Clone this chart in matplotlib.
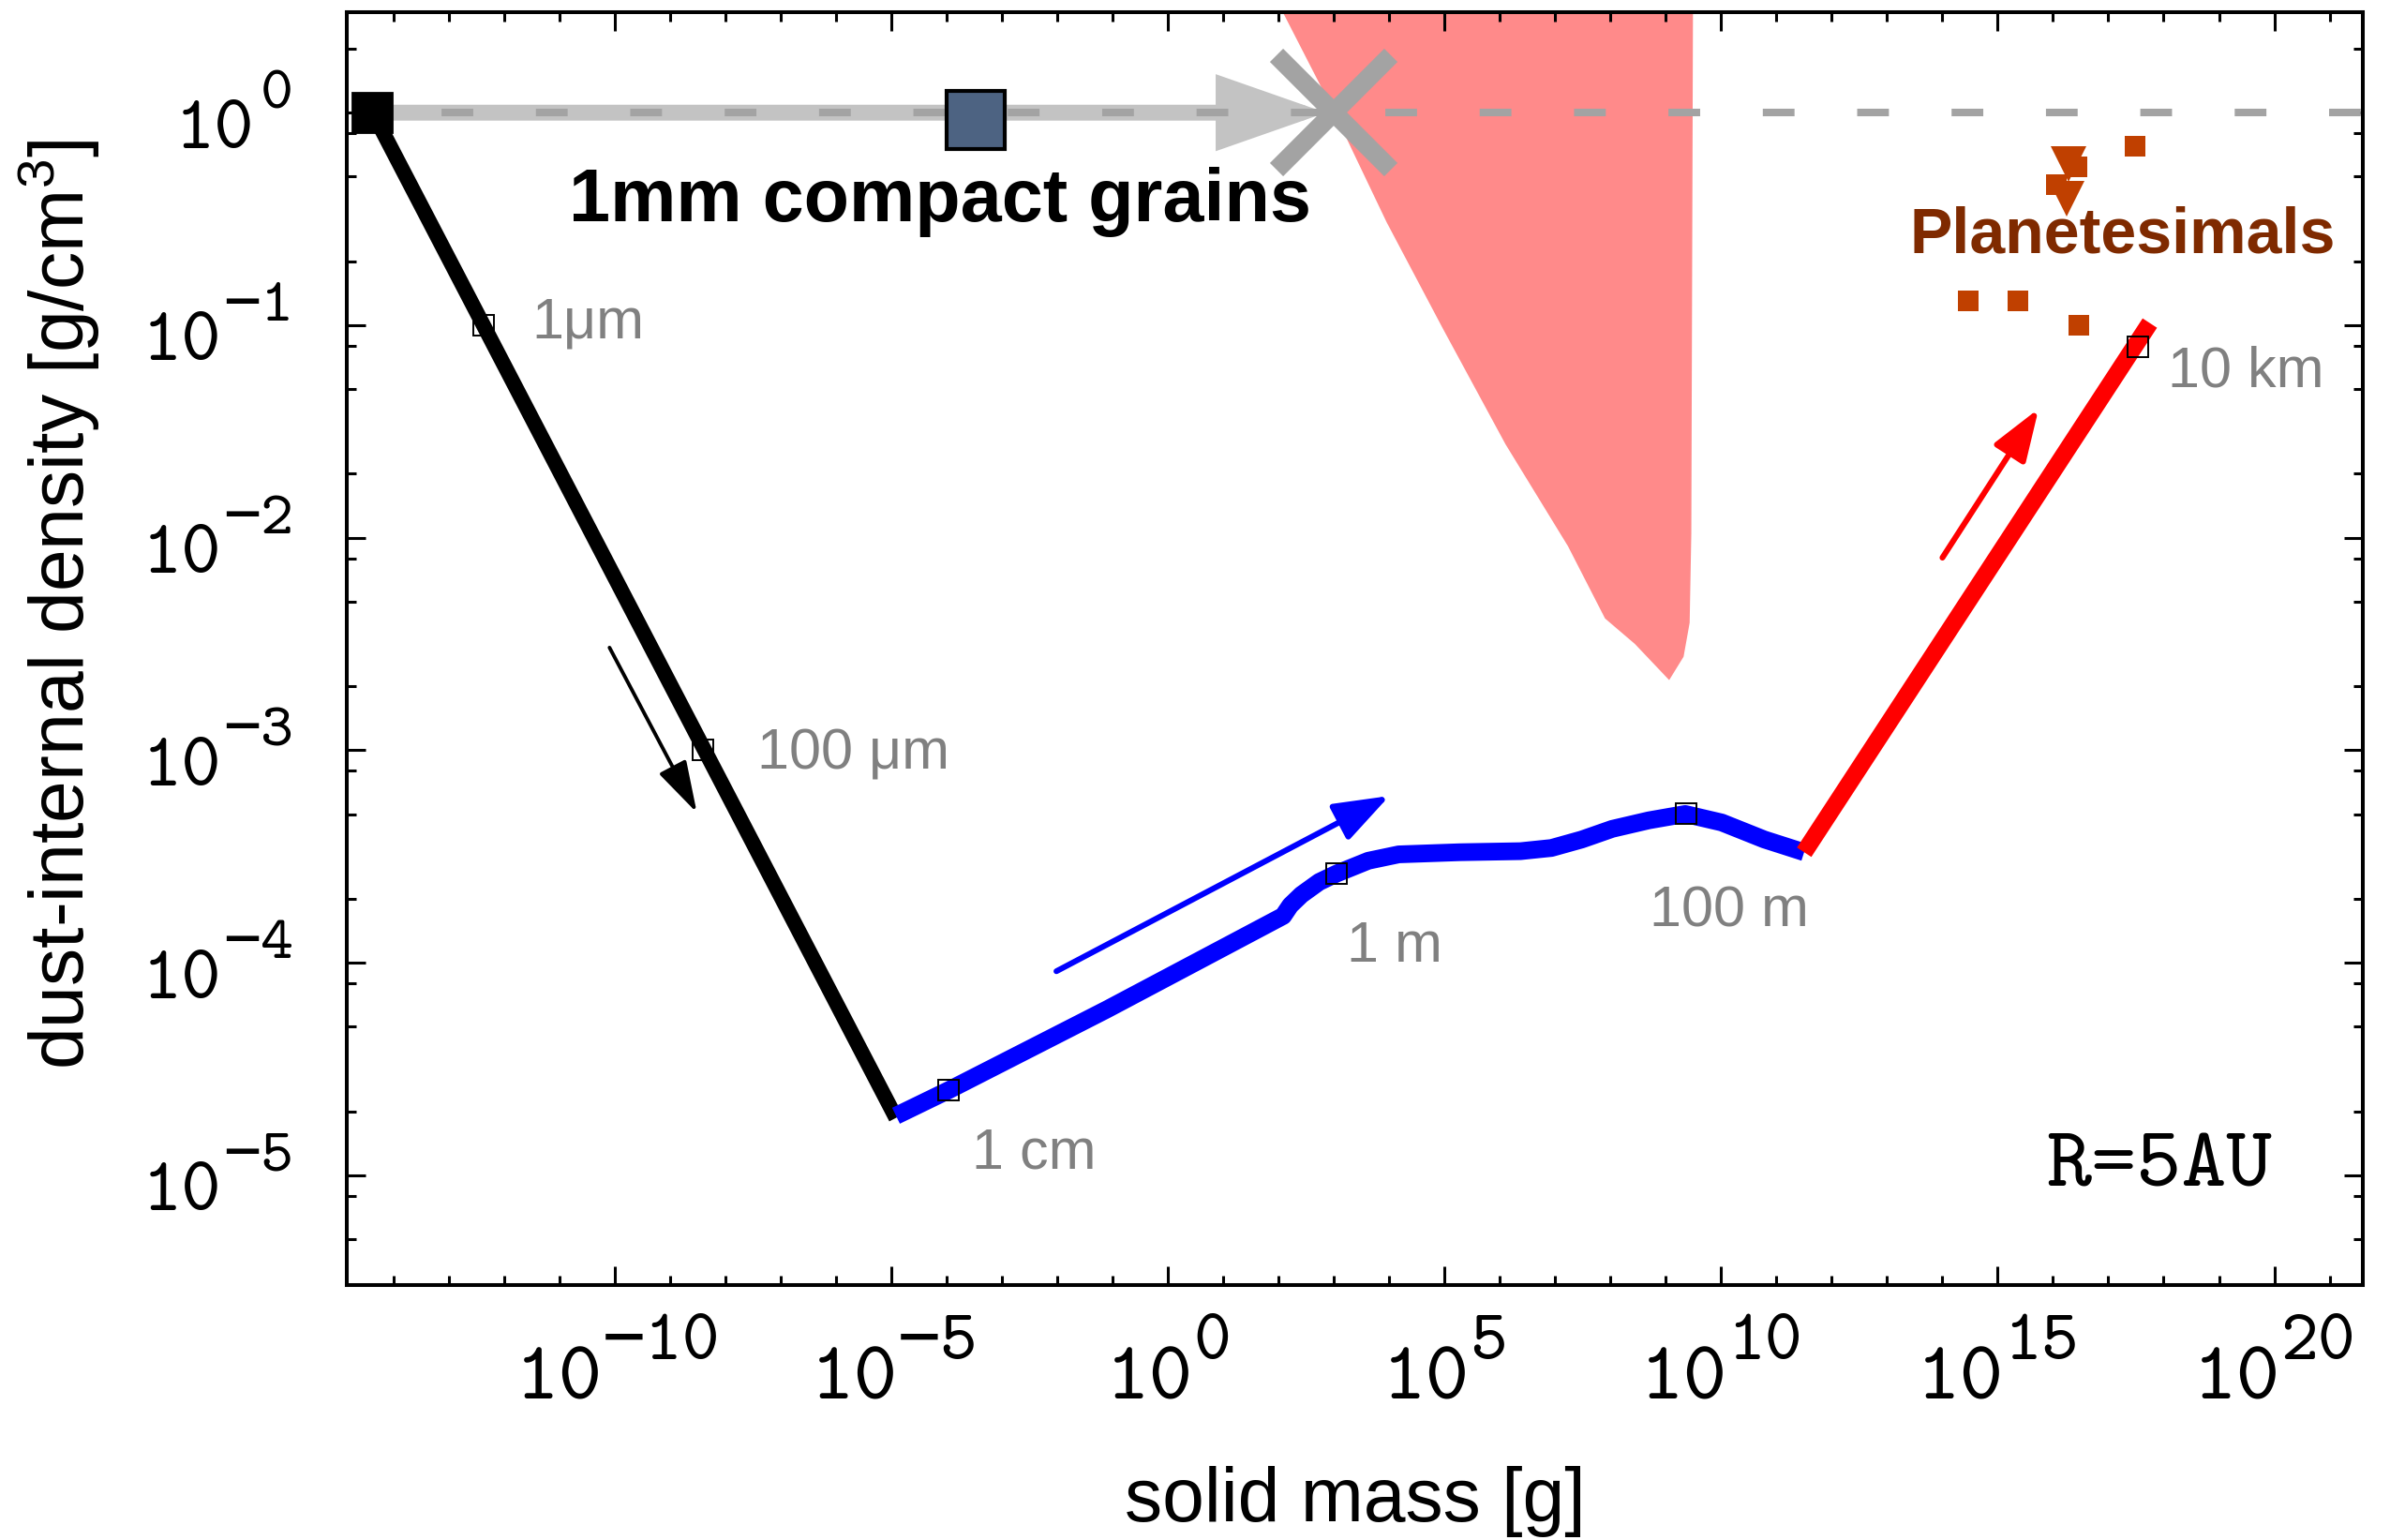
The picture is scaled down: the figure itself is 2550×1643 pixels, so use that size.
import numpy as np
import matplotlib
matplotlib.use('Agg')
import matplotlib.pyplot as plt
import matplotlib.transforms as mtransforms
from matplotlib.ticker import FixedLocator, NullFormatter

plt.rcParams['font.family'] = ['Liberation Sans', 'DejaVu Sans']
MONO = ['cmtt10', 'DejaVu Sans Mono']

# ---------------- data (log10 of mass [g] and density [g/cm^3]) ----------------
monomer_logm, monomer_logrho = -14.39, 0.0
compact_logm, compact_logrho = -3.48, -0.035
compact_end_logm, compact_end_logrho = 3.0, 0.0
compact_arrow_tip_logm = 2.85

black_logm = [-14.38, -4.92]
black_logrho = [0.0, -4.73]

blue_logm = [-4.92, -3.97, -1.11, 2.08, 2.21, 2.41, 2.73, 3.05, 3.62, 4.17,
             5.27, 6.37, 6.93, 7.48, 8.03, 8.69, 9.35, 10.01, 10.78, 11.50]
blue_logrho = [-4.72, -4.60, -4.22, -3.78, -3.73, -3.68, -3.62, -3.58, -3.52, -3.49,
               -3.48, -3.475, -3.46, -3.42, -3.37, -3.33, -3.30, -3.34, -3.42, -3.48]

red_logm = [11.50, 17.75]
red_logrho = [-3.48, -0.99]

size_marker_logm = [-12.38, -8.41, -3.97, 3.05, 9.36, 17.53]
size_marker_logrho = [-1.0, -3.0, -4.60, -3.58, -3.30, -1.10]
size_labels = ['1μm', '100 μm', '1 cm', '1 m', '100 m', '10 km']
size_label_logm = [-11.5, -7.42, -3.55, 3.23, 8.71, 18.07]
size_label_logrho = [-0.99, -3.02, -4.90, -3.925, -3.76, -1.22]

fill_logm = [2.06, 2.99, 3.95, 4.97, 6.10, 7.23, 7.90, 8.44, 9.06, 9.32, 9.43, 9.46, 9.49]
fill_logrho = [0.48, 0.008, -0.515, -1.017, -1.56, -2.04, -2.38, -2.50, -2.67, -2.56, -2.40, -1.98, 0.48]

plan_sq_logm = [17.49, 16.43, 16.06, 14.47, 15.37, 16.47]
plan_sq_logrho = [-0.16, -0.253, -0.337, -0.886, -0.886, -0.999]
plan_tri_logm = [16.28, 16.24]
plan_tri_logrho = [-0.242, -0.405]

arrows = [  # (logm0, logrho0, logm1, logrho1, color, lw, head_length, head_width)
    (-10.1, -2.517, -8.52, -3.294, 'black', 1.4, 1.7, 0.5),
    (-2.02, -4.04, 4.0, -3.215, '#0000ff', 2.2, 1.8, 0.65),
    (14.0, -2.094, 15.74, -1.393, '#ff0000', 2.2, 1.7, 0.6),
]

x_major_exp = [-10, -5, 0, 5, 10, 15, 20]
y_major_exp = [-5, -4, -3, -2, -1, 0]

xlim_log = (-14.85, 21.6)
ylim_log = (-5.517, 0.473)

def p(v):
    return 10.0 ** np.asarray(v, dtype=float)

# ---------------- figure ----------------
fig = plt.figure(figsize=(12.75, 8.215), dpi=200)
ax = fig.add_axes([0.1451, 0.1655, 0.9886 - 0.1451, 0.9921 - 0.1655])
ax.set_xscale('log')
ax.set_yscale('log')
ax.set_xlim(p(xlim_log[0]), p(xlim_log[1]))
ax.set_ylim(p(ylim_log[0]), p(ylim_log[1]))

# forbidden region
ax.fill(p(fill_logm), p(fill_logrho), color='#ff8a8a', lw=0, zorder=1)

# compact grains growth (gray band with arrow)
ax.annotate('', xy=(p(compact_arrow_tip_logm), p(compact_end_logrho)),
            xytext=(p(monomer_logm), p(monomer_logrho)),
            arrowprops=dict(arrowstyle='-|>,head_length=3.0,head_width=1.05',
                            color='#c3c3c3', lw=6.1, shrinkA=0, shrinkB=0,
                            mutation_scale=10, joinstyle='miter'),
            zorder=2)
ax.plot(p([monomer_logm, xlim_log[1] + 1]), p([monomer_logrho, monomer_logrho]),
        color='#a3a3a3', lw=2.9, dash_capstyle='butt',
        linestyle=(3.3, (4.2, 8.3)), zorder=3)

# evolution tracks
ax.plot(p(black_logm), p(black_logrho), color='black', lw=5.8, solid_capstyle='butt', zorder=4)
ax.plot(p(blue_logm), p(blue_logrho), color='#0000ff', lw=6.8, solid_capstyle='butt',
        solid_joinstyle='round', zorder=4)
ax.plot(p(red_logm), p(red_logrho), color='#ff0000', lw=6.6, solid_capstyle='butt', zorder=4)

# markers
ax.plot(p(compact_end_logm), p(compact_end_logrho), marker='x', ms=44, mew=7.2,
        color='#a3a3a3', ls='none', zorder=6)
ax.plot(p(monomer_logm), p(monomer_logrho), marker='s', ms=15, color='black',
        ls='none', zorder=6)
ax.plot(p(compact_logm), p(compact_logrho), marker='s', ms=22, mfc='#4d6382',
        mec='black', mew=1.5, ls='none', zorder=6)
ax.plot(p(size_marker_logm), p(size_marker_logrho), marker='s', ms=7.6, mfc='none',
        mec='black', mew=0.7, ls='none', zorder=6)
ax.plot(p(plan_sq_logm), p(plan_sq_logrho), marker='s', ms=8, color='#c04000',
        mew=0, ls='none', zorder=5)
ax.plot(p(plan_tri_logm), p(plan_tri_logrho), marker='v', ms=14, color='#c04000',
        mew=0, ls='none', zorder=5)

for (m0, r0, m1, r1, c, lw, hl, hw) in arrows:
    ax.annotate('', xy=(p(m1), p(r1)), xytext=(p(m0), p(r0)),
                arrowprops=dict(arrowstyle=f'-|>,head_length={hl},head_width={hw}',
                                color=c, lw=lw, shrinkA=0, shrinkB=0, mutation_scale=10),
                zorder=5)

# text
for lab, m, r in zip(size_labels, size_label_logm, size_label_logrho):
    ax.text(p(m), p(r), lab, color='#808080', fontsize=22, ha='left', va='center', zorder=7)

ax.text(p(-4.12), p(-0.42), '1mm compact grains', fontsize=28.5, fontweight='bold',
        ha='center', va='center', color='black', zorder=7)
ax.text(p(17.25), p(-0.58), 'Planetesimals', fontsize=24.5, fontweight='bold',
        ha='center', va='center', color='#7f2a00', zorder=7)
ax.text(p(15.87), p(-4.97), 'R=5AU', fontsize=33, family=MONO,
        ha='left', va='center', color='black', zorder=7)

# axes ticks
ax.xaxis.set_major_locator(FixedLocator(p(x_major_exp)))
ax.xaxis.set_minor_locator(FixedLocator(p([k for k in range(-14, 22) if k % 5 != 0])))
ax.yaxis.set_major_locator(FixedLocator(p(y_major_exp)))
ax.yaxis.set_minor_locator(FixedLocator([f * 10.0 ** k for k in range(-6, 1) for f in (2, 5, 8)]))
for a in (ax.xaxis, ax.yaxis):
    a.set_major_formatter(NullFormatter())
    a.set_minor_formatter(NullFormatter())

ax.tick_params(which='both', direction='in', top=True, right=True, width=1.1)
ax.tick_params(which='major', length=7.2)
ax.tick_params(which='minor', length=3.6)
for s in ax.spines.values():
    s.set_linewidth(1.45)

# tick labels (typewriter font, large superscripts)
CW = 0.525  # advance width of typewriter glyphs, in em
xs_main, xs_exp = 32, 27.4
ys_main, ys_exp = 29, 24
xbase = mtransforms.blended_transform_factory(ax.transData, ax.transAxes)
ybase = mtransforms.blended_transform_factory(ax.transAxes, ax.transData)
for k in x_major_exp:
    es = str(k).replace('-', '\u2212')
    we = len(es) * CW * xs_exp
    wm = 2 * CW * xs_main
    dx = (wm - we) / 2.0
    ax.text(p(k), 0, '10', fontsize=xs_main, family=MONO, ha='right', va='baseline',
            transform=mtransforms.offset_copy(xbase, fig=fig, x=dx, y=-43.8, units='points'),
            clip_on=False)
    ax.text(p(k), 0, es, fontsize=xs_exp, family=MONO, ha='left', va='baseline',
            transform=mtransforms.offset_copy(xbase, fig=fig, x=dx, y=-28.4, units='points'),
            clip_on=False)
for k in y_major_exp:
    es = str(k).replace('-', '\u2212')
    we = len(es) * CW * ys_exp
    ax.text(0, p(k), es, fontsize=ys_exp, family=MONO, ha='right', va='baseline',
            transform=mtransforms.offset_copy(ybase, fig=fig, x=-20.5, y=1.8, units='points'),
            clip_on=False)
    ax.text(0, p(k), '10', fontsize=ys_main, family=MONO, ha='right', va='baseline',
            transform=mtransforms.offset_copy(ybase, fig=fig, x=-20.5 - we - 2.5, y=-13.5,
                                              units='points'),
            clip_on=False)

ax.set_xlabel('solid mass [g]', fontsize=29)
ax.set_ylabel(r'dust-internal density [g/cm$\mathregular{^3}$]', fontsize=29)
ax.xaxis.set_label_coords(0.5, -0.170)
ax.xaxis.label.set_va('center')
ax.yaxis.set_label_coords(-0.143, 0.535)
ax.yaxis.label.set_va('center')

fig.savefig('out.png', dpi=200)
